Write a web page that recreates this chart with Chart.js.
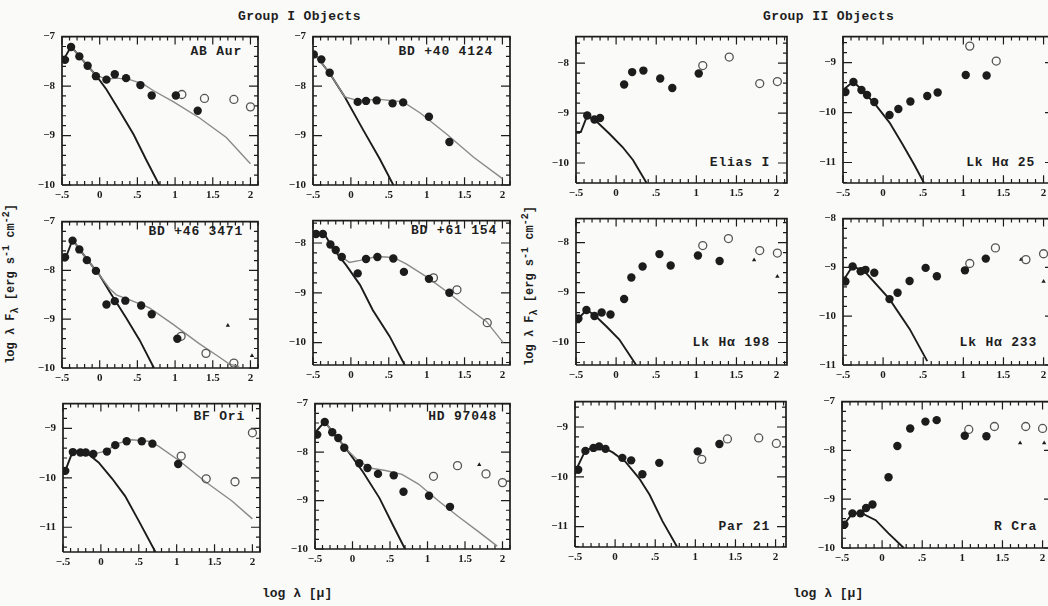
<!DOCTYPE html>
<html lang="en">
<head>
    <meta charset="UTF-8">
    <title>Group I / Group II Objects</title>
    <script src="https://cdn.jsdelivr.net/npm/chart.js"></script>
    <style>
        body { margin: 0; width: 1048px; height: 606px; background: #fafaf9; overflow: hidden; position: relative; }
        canvas { position: absolute; }
        .txt { position: absolute; font-family: "Liberation Mono", monospace; font-weight: bold; color: #1e1e1e; white-space: nowrap; }
        .title { font-size: 13px; top: 9px; letter-spacing: 0.4px; }
        .name { font-size: 13px; letter-spacing: 0.8px; }
        .xlab { font-size: 13px; top: 586px; }
        .ylab { font-size: 12px; transform: translate(-50%, -50%) rotate(-90deg); }
    </style>
</head>
<body>
    <div class="txt title" style="left:238px">Group I Objects</div>
    <div class="txt title" style="left:763px">Group II Objects</div>
    <div class="txt xlab" style="left:262px">log λ [μ]</div>
    <div class="txt xlab" style="left:793px">log λ [μ]</div>
    <div class="txt ylab" style="left:11px; top:284px">log λ F<sub>λ</sub> [erg s<sup>-1</sup> cm<sup>-2</sup>]</div>
    <div class="txt ylab" style="left:530px; top:286px">log λ F<sub>λ</sub> [erg s<sup>-1</sup> cm<sup>-2</sup>]</div>

    <div class="txt name" style="right:806px; top:44px">AB Aur</div>
    <div class="txt name" style="right:555px; top:44px">BD +40 4124</div>
    <div class="txt name" style="right:278px; top:155px">Elias I</div>
    <div class="txt name" style="right:13px; top:155px">Lk Hα 25</div>
    <div class="txt name" style="right:805px; top:224px">BD +46 3471</div>
    <div class="txt name" style="right:551px; top:223px">BD +61 154</div>
    <div class="txt name" style="right:278px; top:335px">Lk Hα 198</div>
    <div class="txt name" style="right:11px; top:335px">Lk Hα 233</div>
    <div class="txt name" style="right:803px; top:409px">BF Ori</div>
    <div class="txt name" style="right:551px; top:409px">HD 97048</div>
    <div class="txt name" style="right:278px; top:519px">Par 21</div>
    <div class="txt name" style="right:11px; top:519px">R Cra</div>

    <script>
        // tick labels shared by all panels
        const xTickValues = [-0.5, 0, 0.5, 1, 1.5, 2];
        const xTickLabels = ['-.5', '0', '.5', '1', '1.5', '2'];

        // AB Aur
        const abAurFilled = [[-0.46,-7.47],[-0.38,-7.21],[-0.27,-7.40],[-0.16,-7.59],[-0.05,-7.80],[0.09,-7.87],[0.20,-7.76],[0.35,-7.84],[0.54,-7.98],[0.69,-8.19],[1.01,-8.19],[1.30,-8.50]];
        const abAurOpen = [[1.09,-8.17],[1.39,-8.25],[1.78,-8.27],[2.0,-8.42]];
        const abAurPhot = [[-0.48,-7.47],[-0.38,-7.20],[-0.16,-7.59],[-0.05,-7.78],[0.09,-8.07],[0.27,-8.52],[0.45,-8.98],[0.62,-9.50],[0.79,-10.0]];
        const abAurModel = [[-0.38,-7.20],[-0.16,-7.59],[-0.05,-7.78],[0.09,-7.86],[0.23,-7.84],[0.40,-7.87],[0.58,-7.96],[0.71,-8.09],[0.98,-8.32],[1.33,-8.65],[1.68,-9.04],[2.0,-9.57]];

        // BD +40 4124
        const bd40Filled = [[-0.49,-7.36],[-0.39,-7.46],[-0.28,-7.73],[0.09,-8.32],[0.20,-8.30],[0.34,-8.29],[0.55,-8.35],[0.69,-8.33],[1.03,-8.62],[1.30,-9.13]];
        const bd40Phot = [[-0.49,-7.33],[-0.28,-7.74],[-0.08,-8.22],[0.16,-8.88],[0.38,-9.47],[0.56,-10.0]];
        const bd40Model = [[-0.49,-7.33],[-0.28,-7.74],[-0.08,-8.22],[0.08,-8.29],[0.38,-8.27],[0.69,-8.32],[0.92,-8.55],[1.27,-8.98],[1.62,-9.44],[2.0,-9.87]];

        // Elias I
        const eliasFilled = [[-0.36,-9.05],[-0.27,-9.13],[-0.20,-9.10],[0.10,-8.43],[0.20,-8.18],[0.34,-8.15],[0.55,-8.31],[0.70,-8.50],[1.03,-8.21]];
        const eliasOpen = [[1.08,-8.05],[1.41,-7.88],[1.79,-8.41],[2.01,-8.37]];
        const eliasPhot = [[-0.5,-9.38],[-0.44,-9.38],[-0.36,-9.05],[-0.25,-9.16],[-0.08,-9.42],[0.08,-9.68],[0.21,-9.94],[0.38,-10.4]];

        // Lk Ha 25
        const lk25Filled = [[-0.47,-9.59],[-0.37,-9.39],[-0.27,-9.55],[-0.20,-9.65],[-0.11,-9.79],[0.08,-10.05],[0.19,-9.93],[0.34,-9.78],[0.55,-9.67],[0.68,-9.60],[1.03,-9.25],[1.29,-9.26]];
        const lk25Open = [[1.08,-8.67],[1.41,-8.97]];
        const lk25Phot = [[-0.5,-9.55],[-0.37,-9.38],[-0.22,-9.62],[-0.09,-9.85],[0.08,-10.2],[0.24,-10.63],[0.39,-11.05],[0.51,-11.41]];

        // BD +46 3471
        const bd46Filled = [[-0.46,-7.73],[-0.36,-7.39],[-0.27,-7.57],[-0.17,-7.79],[-0.05,-8.01],[0.09,-8.70],[0.20,-8.63],[0.34,-8.62],[0.55,-8.72],[0.69,-8.90],[1.03,-9.40]];
        const bd46Open = [[1.08,-9.35],[1.41,-9.70],[1.78,-9.90]];
        const bd46Tri = [[1.70,-9.13],[2.02,-9.75]];
        const bd46Phot = [[-0.5,-7.73],[-0.44,-7.70],[-0.36,-7.37],[-0.17,-7.77],[0.0,-8.10],[0.13,-8.43],[0.35,-8.97],[0.53,-9.43],[0.72,-10.0]];
        const bd46Model = [[-0.36,-7.37],[-0.17,-7.77],[0.0,-8.10],[0.13,-8.37],[0.22,-8.50],[0.44,-8.63],[0.66,-8.77],[0.97,-9.10],[1.32,-9.50],[1.58,-9.77],[1.72,-9.92],[1.85,-9.97]];

        // BD +61 154
        const bd61Filled = [[-0.46,-7.82],[-0.37,-7.82],[-0.27,-8.03],[-0.20,-8.14],[-0.12,-8.28],[0.09,-8.61],[0.20,-8.32],[0.35,-8.28],[0.56,-8.31],[0.70,-8.58],[1.03,-8.72],[1.30,-9.0]];
        const bd61Open = [[1.09,-8.70],[1.40,-8.94],[1.80,-9.60]];
        const bd61Phot = [[-0.5,-7.82],[-0.35,-7.82],[-0.24,-8.10],[-0.06,-8.45],[0.12,-8.84],[0.29,-9.35],[0.51,-9.87],[0.71,-10.45]];
        const bd61Model = [[-0.24,-8.10],[-0.12,-8.28],[-0.02,-8.39],[0.12,-8.35],[0.34,-8.27],[0.56,-8.29],[0.73,-8.42],[1.0,-8.68],[1.26,-8.97],[1.53,-9.29],[1.79,-9.58],[2.01,-10.0]];

        // Lk Ha 198
        const lk198Filled = [[-0.47,-9.52],[-0.37,-9.35],[-0.27,-9.47],[-0.18,-9.40],[-0.07,-9.44],[0.10,-9.13],[0.19,-8.70],[0.33,-8.48],[0.54,-8.23],[0.68,-8.46],[1.02,-8.26],[1.29,-8.37]];
        const lk198Open = [[1.08,-8.06],[1.40,-7.92],[1.79,-8.16],[2.01,-8.21]];
        const lk198Tri = [[1.72,-8.35],[2.01,-8.68]];
        const lk198Phot = [[-0.5,-9.61],[-0.47,-9.52],[-0.37,-9.35],[-0.27,-9.45],[-0.12,-9.68],[0.04,-9.94],[0.25,-10.45]];

        // Lk Ha 233
        const lk233Filled = [[-0.47,-9.29],[-0.38,-8.98],[-0.28,-9.08],[-0.22,-9.05],[-0.11,-9.11],[0.08,-9.65],[0.18,-9.52],[0.33,-9.28],[0.53,-9.01],[0.67,-9.18],[1.02,-9.06],[1.28,-8.82]];
        const lk233Open = [[1.08,-8.92],[1.40,-8.60],[1.78,-8.84],[2.0,-8.72]];
        const lk233Tri = [[1.72,-8.84],[2.0,-9.29]];
        const lk233Phot = [[-0.5,-9.28],[-0.38,-8.97],[-0.22,-9.10],[0.08,-9.65],[0.33,-10.26],[0.55,-10.92]];

        // BF Ori
        const bfOriFilled = [[-0.47,-9.86],[-0.37,-9.48],[-0.27,-9.49],[-0.20,-9.49],[-0.10,-9.52],[0.08,-9.47],[0.19,-9.34],[0.34,-9.26],[0.54,-9.26],[0.68,-9.31],[1.02,-9.72]];
        const bfOriOpen = [[1.06,-9.56],[1.39,-10.02],[1.77,-10.08],[2.0,-9.09]];
        const bfOriPhot = [[-0.47,-9.86],[-0.37,-9.46],[-0.20,-9.48],[-0.03,-9.69],[0.15,-10.02],[0.32,-10.37],[0.50,-10.87],[0.72,-11.5]];
        const bfOriModel = [[-0.37,-9.46],[-0.20,-9.48],[-0.10,-9.52],[0.06,-9.46],[0.24,-9.30],[0.41,-9.23],[0.63,-9.26],[0.76,-9.36],[1.03,-9.65],[1.38,-10.08],[1.73,-10.47],[2.0,-10.83]];

        // HD 97048
        const hdFilled = [[-0.47,-7.64],[-0.37,-7.38],[-0.27,-7.59],[-0.19,-7.71],[-0.11,-7.91],[0.09,-8.23],[0.20,-8.33],[0.34,-8.45],[0.55,-8.48],[0.68,-8.82],[1.02,-8.90],[1.30,-9.13]];
        const hdOpen = [[1.08,-8.50],[1.40,-8.28],[1.78,-8.45],[2.0,-8.63]];
        const hdTri = [[1.69,-8.26]];
        const hdPhot = [[-0.5,-7.60],[-0.37,-7.37],[-0.26,-7.60],[-0.08,-7.94],[0.14,-8.41],[0.36,-8.95],[0.53,-9.48],[0.70,-10.0]];
        const hdModel = [[-0.37,-7.37],[-0.26,-7.60],[-0.08,-7.94],[0.09,-8.20],[0.27,-8.34],[0.44,-8.38],[0.66,-8.46],[0.88,-8.66],[1.14,-9.0],[1.41,-9.33],[1.67,-9.63],[1.93,-9.94]];

        // Par 21
        const par21Filled = [[-0.46,-9.86],[-0.37,-9.48],[-0.27,-9.42],[-0.20,-9.39],[-0.12,-9.44],[0.09,-9.62],[0.20,-9.67],[0.34,-9.95],[0.55,-9.72],[1.03,-9.49],[1.30,-9.34]];
        const par21Open = [[1.08,-9.65],[1.40,-9.24],[1.79,-9.22],[2.01,-9.33]];
        const par21Phot = [[-0.5,-9.96],[-0.46,-9.77],[-0.37,-9.47],[-0.20,-9.37],[-0.03,-9.51],[0.13,-9.70],[0.30,-10.03],[0.43,-10.36],[0.59,-10.89],[0.77,-11.4]];

        // R Cra
        const rCraFilled = [[-0.47,-9.52],[-0.37,-9.29],[-0.27,-9.29],[-0.20,-9.18],[-0.12,-9.11],[0.08,-8.55],[0.19,-7.91],[0.35,-7.55],[0.54,-7.41],[0.68,-7.38],[1.03,-7.70],[1.30,-7.71]];
        const rCraOpen = [[1.08,-7.57],[1.40,-7.51],[1.79,-7.51],[2.0,-7.55]];
        const rCraTri = [[1.72,-7.85],[2.02,-7.85]];
        const rCraPhot = [[-0.5,-9.57],[-0.37,-9.29],[-0.25,-9.29],[-0.08,-9.43],[0.08,-9.70],[0.27,-10.0]];

        // y tick labels
        const yTicks7 = [-7, -8, -9, -10];
        const yTicks8 = [-8, -9, -10];
        const yTicks9 = [-9, -10, -11];
        const yTicks8to11 = [-8, -9, -10, -11];

        // panel table: box on the page + series
        const panels = [
            { box: [62, 33, 196, 152],  x: [-0.5, 2.1],  y: [-10, -7],       yt: yTicks7, f: abAurFilled, o: abAurOpen, p: abAurPhot, m: abAurModel },
            { box: [313, 33, 197, 152], x: [-0.5, 2.1],  y: [-10, -7],       yt: yTicks7, f: bd40Filled, p: bd40Phot, m: bd40Model },
            { box: [576, 33, 211, 150], x: [-0.5, 2.13], y: [-10.4, -7.47],  yt: yTicks8, f: eliasFilled, o: eliasOpen, p: eliasPhot },
            { box: [843, 33, 211, 150], x: [-0.5, 2.13], y: [-11.41, -8.48], yt: yTicks9, f: lk25Filled, o: lk25Open, p: lk25Phot },
            { box: [62, 218, 196, 150], x: [-0.5, 2.1],  y: [-10, -7],       yt: yTicks7, f: bd46Filled, o: bd46Open, t: bd46Tri, p: bd46Phot, m: bd46Model },
            { box: [313, 217, 197, 148], x: [-0.5, 2.1], y: [-10.45, -7.55], yt: yTicks8, f: bd61Filled, o: bd61Open, p: bd61Phot, m: bd61Model },
            { box: [576, 215, 211, 150], x: [-0.5, 2.13], y: [-10.45, -7.52], yt: yTicks8, f: lk198Filled, o: lk198Open, t: lk198Tri, p: lk198Phot },
            { box: [843, 215, 211, 150], x: [-0.5, 2.13], y: [-11, -8],      yt: yTicks8to11, f: lk233Filled, o: lk233Open, t: lk233Tri, p: lk233Phot },
            { box: [63, 400, 197, 152], x: [-0.5, 2.1],  y: [-11.5, -8.5],   yt: yTicks9, f: bfOriFilled, o: bfOriOpen, p: bfOriPhot, m: bfOriModel },
            { box: [315, 400, 195, 149], x: [-0.5, 2.1], y: [-10, -7],       yt: yTicks7, f: hdFilled, o: hdOpen, t: hdTri, p: hdPhot, m: hdModel },
            { box: [575, 398, 211, 149], x: [-0.5, 2.13], y: [-11.41, -8.49], yt: yTicks9, f: par21Filled, o: par21Open, p: par21Phot },
            { box: [842, 398, 211, 150], x: [-0.5, 2.13], y: [-10, -7],      yt: yTicks7, f: rCraFilled, o: rCraOpen, t: rCraTri, p: rCraPhot }
        ];

        const INK = '#1c1c1c';
        const tickFont = { family: '"Liberation Serif", serif', size: 11, weight: 'bold' };
        const pts = arr => arr.map(([x, y]) => ({ x, y }));
        const minus = s => s.replace('-', '\u2212');

        // tick positions every `step` inside [lo, hi]
        function stepsIn(lo, hi, step) {
            const out = [];
            for (let i = Math.ceil(lo / step - 1e-6); i <= Math.floor(hi / step + 1e-6); i++) out.push(+(i * step).toFixed(2));
            return out;
        }

        // the plot frame and its inward tick marks, as line segments in axis units
        // (custom canvas strokes did not show up in this renderer, dataset lines do)
        function frameSegments(x0, x1, y0, y1, w, h) {
            const ux = (x1 - x0) / w, uy = (y1 - y0) / h;   // axis units per pixel
            const seg = [];
            const add = (ax, ay, bx, by) => { seg.push({ x: ax, y: ay }, { x: bx, y: by }, { x: ax, y: null }); };
            stepsIn(x0, x1, 0.1).forEach(v => {
                const len = Math.abs(Math.round(v * 10)) % 5 === 0 ? 8 : 4;
                add(v, y0, v, y0 + len * uy);
                add(v, y1, v, y1 - len * uy);
            });
            stepsIn(y0, y1, 0.2).forEach(v => {
                const len = Math.abs(Math.round(v * 5)) % 5 === 0 ? 9 : 4;
                add(x0, v, x0 + len * ux, v);
                add(x1, v, x1 - len * ux, v);
            });
            return seg;
        }

        panels.forEach(pn => {
            const [left, top, w, h] = pn.box;
            const padL = 46, padT = 10, padR = 10, padB = 22;
            const canvas = document.createElement('canvas');
            canvas.width = w + padL + padR;
            canvas.height = h + padT + padB;
            canvas.style.left = (left - padL) + 'px';
            canvas.style.top = (top - padT) + 'px';
            document.body.appendChild(canvas);

            const [x0, x1] = pn.x, [y0, y1] = pn.y;

            const datasets = [];
            // frame box
            datasets.push({ data: [{ x: x0, y: y0 }, { x: x1, y: y0 }, { x: x1, y: y1 }, { x: x0, y: y1 }, { x: x0, y: y0 }],
                            showLine: true, pointRadius: 0, borderColor: INK, borderWidth: 1.7, clip: false, order: 5 });
            // tick marks
            datasets.push({ data: frameSegments(x0, x1, y0, y1, w, h), showLine: true, spanGaps: false, pointRadius: 0,
                            borderColor: INK, borderWidth: 1.2, borderCapStyle: 'butt', clip: false, order: 5 });
            if (pn.p) datasets.push({ data: pts(pn.p), showLine: true, pointRadius: 0, borderColor: INK, borderWidth: 1.9, order: 3 });
            if (pn.m) datasets.push({ data: pts(pn.m), showLine: true, pointRadius: 0, borderColor: '#8a8a8a', borderWidth: 1.4, order: 2 });
            datasets.push({ data: pts(pn.f), pointRadius: 4.2, backgroundColor: INK, borderColor: INK, borderWidth: 0, order: 1 });
            if (pn.o) datasets.push({ data: pts(pn.o), pointRadius: 4, backgroundColor: 'rgba(0,0,0,0)', borderColor: '#555', borderWidth: 1.3, order: 1 });
            if (pn.t) datasets.push({ data: pts(pn.t), pointStyle: 'triangle', pointRadius: 2.5, backgroundColor: INK, borderColor: INK, borderWidth: 0, order: 1 });

            new Chart(canvas, {
                type: 'scatter',
                data: { datasets },
                options: {
                    responsive: false,
                    animation: false,
                    events: [],
                    layout: { padding: { left: 0, top: padT, right: padR, bottom: 0 } },
                    plugins: { legend: { display: false }, tooltip: { enabled: false } },
                    scales: {
                        x: {
                            type: 'linear', min: x0, max: x1,
                            afterBuildTicks: s => { s.ticks = xTickValues.map(v => ({ value: v })); },
                            afterFit: s => { s.height = padB; },
                            grid: { display: false, drawTicks: false },
                            border: { display: false },
                            ticks: { autoSkip: false, maxRotation: 0, padding: 4, color: INK, font: tickFont,
                                     callback: (v, i) => minus(xTickLabels[i]) }
                        },
                        y: {
                            type: 'linear', min: y0, max: y1,
                            afterBuildTicks: s => { s.ticks = pn.yt.map(v => ({ value: v })); },
                            afterFit: s => { s.width = padL; },
                            grid: { display: false, drawTicks: false },
                            border: { display: false },
                            ticks: { autoSkip: false, padding: 7, color: INK, font: tickFont,
                                     callback: v => minus(String(v)) }
                        }
                    }
                }
            });
        });
    </script>
</body>
</html>
